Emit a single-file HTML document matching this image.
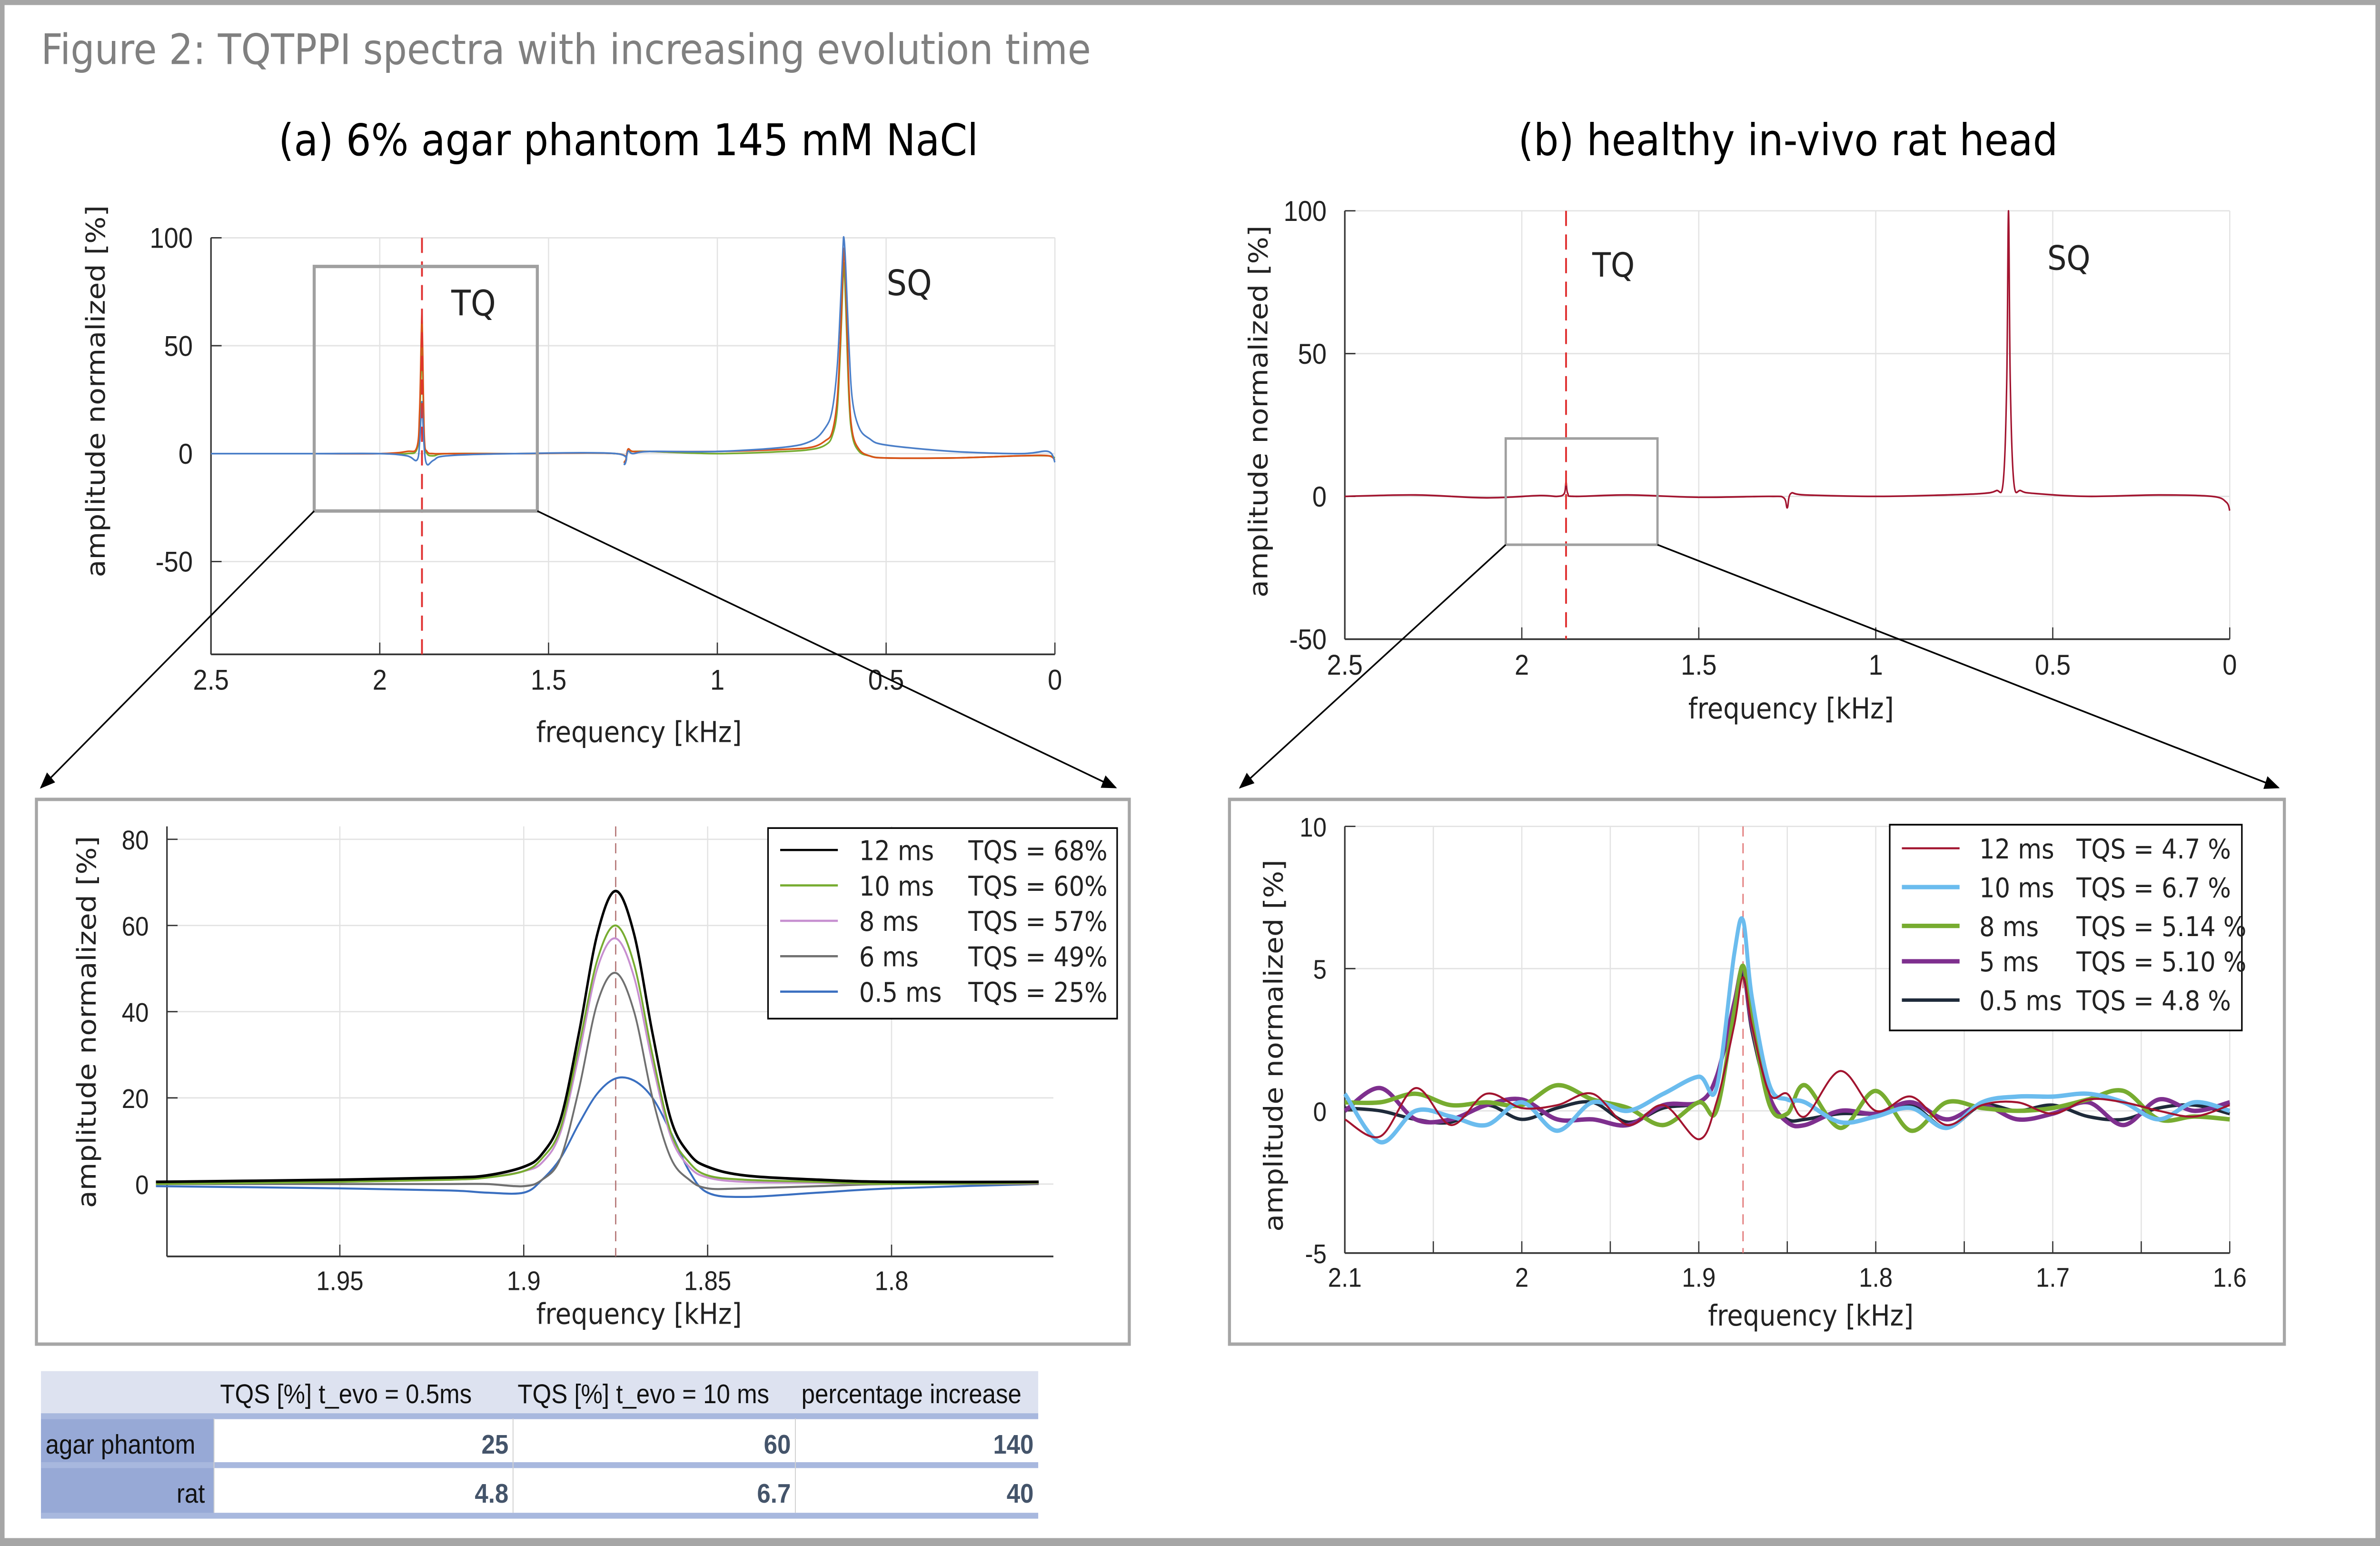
<!DOCTYPE html>
<html><head><meta charset="utf-8">
<style>
html,body{margin:0;padding:0;background:#fff;width:100%;height:100%;overflow:hidden;}
#wrap{position:fixed;left:0;top:0;width:100vw;height:100vh;overflow:hidden;}
svg{display:block;position:absolute;left:0;top:0;width:100%;height:100%;}
text{font-family:"DejaVu Sans","Liberation Sans",sans-serif;}
.n{font-family:"Liberation Sans Narrow","Liberation Sans",sans-serif;}
</style></head><body>
<div id="wrap">
<svg id="fig" viewBox="0 0 1568 916.7" preserveAspectRatio="none" xmlns="http://www.w3.org/2000/svg">
<rect x="0" y="0" width="1568" height="916.7" fill="#a6a6a6"/>
<rect x="3" y="3" width="1562" height="909" fill="#fff"/>
<text x="27" y="38" font-size="25" fill="#808080">Figure 2: TQTPPI spectra with increasing evolution time</text>
<text x="414" y="92" font-size="26" text-anchor="middle">(a) 6% agar phantom 145 mM NaCl</text>
<text x="1178" y="92" font-size="26" text-anchor="middle">(b) healthy in-vivo rat head</text>
<g id="layer"></g>
</svg>
</div>
<script>
// ---------- data ----------
const aTopFreq = [2.5,2.2,2.0,1.92,1.89,1.882,1.877,1.875,1.873,1.868,1.86,1.84,1.8,1.6,1.3,1.275,1.265,1.25,1.2,1.0,0.8,0.72,0.68,0.66,0.645,0.635,0.628,0.625,0.62,0.61,0.6,0.58,0.55,0.5,0.3,0.1,0.02,0.0];
const aTop05  = [0,0,0,-1,-3,5,20,24,18,2,-5,-3,-1,0,0,-5,1,0,1,1,3,6,12,20,40,70,95,100,88,50,25,12,7,4,1,0,1,-4];
const aTop12  = [0,0,0,1,3,20,55,65,50,8,1,0,0,0,0,-4,2,1,1,1,2,3,6,10,25,55,85,95,80,30,10,2,-1,-2,-2,-1,-1,-3];
const aTop6   = [0,0,0,0,2,15,42,49,38,6,0,-1,0,0,0,-4,1,1,1,0,1,2,4,8,20,50,80,88,70,25,8,1,-1,-2,-2,-1,-1,-2];
const aTopColors = ["#4a7ec8","#d95319","#77ac30"];
const bTopFreq = [2.5,2.3,2.1,1.95,1.9,1.88,1.875,1.87,1.85,1.7,1.5,1.3,1.26,1.25,1.24,1.2,1.0,0.8,0.7,0.66,0.64,0.63,0.625,0.62,0.61,0.59,0.55,0.4,0.2,0.05,0.01,0.0];
const bTop12   = [0,0.5,-0.5,0.3,0,1,5,1,0,0.5,-0.3,0,-0.5,-4,1,0.5,0,0.5,1,2,5,40,100,40,5,2,1,0,0.5,0,-2,-5];
const zaFreq = [2.0,1.95,1.92,1.91,1.9,1.895,1.89,1.885,1.88,1.875,1.87,1.865,1.86,1.855,1.85,1.84,1.82,1.8,1.76];
const za12  = [0.5,1,1.5,2,4,7,15,35,58,68,58,35,15,7,4,2,1,0.5,0.5];
const za10  = [0,0.5,1,1.5,3,6,13,32,52,60,51,30,12,5,2,1,0.5,0,0.3];
const za8   = [0,0.5,1,1.5,3,5,12,30,50,57,48,28,11,4,1.5,0.5,0.3,0,0.2];
const za6   = [0,0,0,0,-0.5,1,6,22,42,49,40,20,6,1,-1,-1,-0.5,0,0];
const za05  = [-0.5,-1,-1.5,-2,-2,1,6,14,21,24.5,24,20,12,3,-2,-3,-2,-1,0];
const zaLabels = ["12 ms","10 ms","8 ms","6 ms","0.5 ms"];
const zaTqs = ["TQS = 68%","TQS = 60%","TQS = 57%","TQS = 49%","TQS = 25%"];
const zaColors = ["#000000","#77ac30","#c78fd0","#707070","#3a6fc0"];
const zbFreq = [2.1,2.08,2.06,2.04,2.02,2.0,1.98,1.96,1.94,1.92,1.9,1.89,1.88,1.875,1.87,1.86,1.85,1.84,1.82,1.8,1.78,1.76,1.74,1.72,1.7,1.68,1.66,1.64,1.62,1.6];
const zb12 = [-0.3,-0.9,0.8,-0.5,0.6,0.1,0.2,0.6,-0.5,0.2,-1.0,0.3,3,4.7,3,0.6,0.6,-0.2,1.4,0,0.5,-0.5,0.2,0.3,-0.1,0.4,0.3,0,-0.2,0.2];
const zb10 = [0.6,-1.1,0,-0.2,-0.5,0.3,-0.7,0.3,0,0.6,1.2,0.8,5.5,6.7,4,0.9,0.4,0.3,-0.4,-0.2,0.1,-0.6,0.3,0.5,0.5,0.6,0.3,-0.3,0.3,0];
const zb8  = [0.3,0.3,0.6,0.2,0.3,0.2,0.9,0.4,0.1,-0.5,0.3,0,3.5,5.1,3.2,0.2,-0.1,0.9,-0.6,0.7,-0.7,0.3,0.1,0,0.1,0.4,0.7,-0.3,-0.2,-0.3];
const zb5  = [0,0.8,-0.3,-0.3,0.2,0.4,-0.3,-0.3,-0.5,0.2,0.3,1.2,3.8,5.0,3,0.5,-0.4,-0.5,0,-0.1,0.3,-0.3,0.2,-0.3,-0.1,0.3,-0.5,0.4,0,0.3];
const zb05 = [0.1,0,-0.3,-0.4,0.2,-0.3,0.1,0.3,-0.4,0.1,0.3,1.2,3.5,4.8,2.8,0.4,-0.3,-0.3,-0.1,-0.1,0.2,-0.6,0.2,0,0.2,-0.2,-0.3,0.1,0.2,-0.1];
const zbLabels = ["12 ms","10 ms","8 ms","5 ms","0.5 ms"];
const zbTqs = ["TQS = 4.7 %","TQS = 6.7 %","TQS = 5.14 %","TQS = 5.10 %","TQS = 4.8 %"];
const zbColors = ["#a2142f","#6bbcee","#77ac30","#7e2f8e","#1e2a3a"];
const zbWidths = [1.2,2.6,2.6,2.6,2];
const tabCols = ["TQS [%] t_evo = 0.5ms","TQS [%]  t_evo = 10 ms","percentage increase"];
const tabRows = ["agar phantom","rat"];
const tabVals = [["25","60","140"],["4.8","6.7","40"]];

// ---------- helpers ----------
const NS = "http://www.w3.org/2000/svg";
const layer = document.getElementById("layer");
function el(tag, attrs, parent, txt){
  const e = document.createElementNS(NS, tag);
  for (const k in attrs) e.setAttribute(k, attrs[k]);
  if (txt !== undefined) e.textContent = txt;
  (parent || layer).appendChild(e);
  return e;
}
function mk(c){
  c.sx = f => c.x0 + (f - c.xl) / (c.xr - c.xl) * (c.x1 - c.x0);
  c.sy = v => c.y1 - (v - c.ymin) / (c.ymax - c.ymin) * (c.y1 - c.y0);
  return c;
}
function smooth(pts){
  let d = "M" + pts[0][0].toFixed(2) + "," + pts[0][1].toFixed(2);
  for (let i = 0; i < pts.length - 1; i++){
    const p0 = pts[Math.max(0,i-1)], p1 = pts[i], p2 = pts[i+1], p3 = pts[Math.min(pts.length-1,i+2)];
    const c1x = p1[0] + (p2[0]-p0[0])/6, c1y = p1[1] + (p2[1]-p0[1])/6;
    const c2x = p2[0] - (p3[0]-p1[0])/6, c2y = p2[1] - (p3[1]-p1[1])/6;
    d += "C" + c1x.toFixed(2)+","+c1y.toFixed(2)+" "+c2x.toFixed(2)+","+c2y.toFixed(2)+" "+p2[0].toFixed(2)+","+p2[1].toFixed(2);
  }
  return d;
}
function axes(c, xt, yt, xtl, ytl, fs, prefix){
  const g = el("g", {});
  
  
  xt.forEach((t,i) => {
    const x = c.sx(t);
    const gl = el("line", {x1:x, x2:x, y1:c.y0, y2:c.y1, stroke:"#e3e3e3", "stroke-width":0.8}, g);
    
    
    el("line", {x1:x, x2:x, y1:c.y1, y2:c.y1-7, stroke:"#333", "stroke-width":0.8}, g);
    if (xtl[i] !== "") {
      const tx = el("text", {x:x, y:c.y1+fs+4, "font-size":fs, "text-anchor":"middle", fill:"#222", class:"n"}, g, xtl[i]);
      
      
    }
  });
  yt.forEach((t,i) => {
    const y = c.sy(t);
    const gl = el("line", {x1:c.x0, x2:c.x1, y1:y, y2:y, stroke:"#e3e3e3", "stroke-width":0.8}, g);
    
    
    el("line", {x1:c.x0, x2:c.x0+7, y1:y, y2:y, stroke:"#333", "stroke-width":0.8}, g);
    const ty = el("text", {x:c.x0-12, y:y+6, "font-size":fs, "text-anchor":"end", fill:"#222", class:"n"}, g, ytl[i]);
    
    
  });
  el("line", {x1:c.x0, x2:c.x0, y1:c.y0, y2:c.y1, stroke:"#333", "stroke-width":1}, g);
  el("line", {x1:c.x0, x2:c.x1, y1:c.y1, y2:c.y1, stroke:"#333", "stroke-width":1}, g);
}
function series(c, fr, vals, color, w, name){
  const pts = fr.map((f,i) => [c.sx(f), c.sy(vals[i])]);
  const p = el("path", {d:smooth(pts), fill:"none", stroke:color, "stroke-width":w, "stroke-linejoin":"round"});
  
  
}
function label(x, y, fs, txt, name, rot, anchor){
  const a = {x:x, y:y, "font-size":fs, "text-anchor":anchor||"middle", fill:"#222"};
  if (rot) a.transform = "rotate(-90 " + x + " " + y + ")";
  const t = el("text", a, layer, txt);
  
  
  return t;
}

// ---------- (a) overview ----------
const A = mk({x0:139, x1:695, y0:141, y1:388, xl:2.5, xr:0, ymin:-93, ymax:100});
axes(A, [2.5,2,1.5,1,0.5,0], [100,50,0,-50], ["2.5","2","1.5","1","0.5","0"], ["100","50","0","-50"], 17, "a-top");
[aTop6, aTop12, aTop05].forEach((s,i) => series(A, aTopFreq, s, [aTopColors[2],aTopColors[1],aTopColors[0]][i], 1, "a-top-series"));
let r = el("line", {x1:A.sx(1.875), x2:A.sx(1.875), y1:A.y0, y2:A.y1, stroke:"#e03030", "stroke-width":1.2, "stroke-dasharray":"9,5"});
 
r = el("rect", {x:207, y:158, width:147, height:145, fill:"none", stroke:"#a0a0a0", "stroke-width":2});
 
label(312, 187, 21, "TQ", "a-tq-label");
label(599, 175, 21, "SQ", "a-sq-label");
label(421, 440, 17, "frequency [kHz]", "a-top-x-title");
label(69, 232, 17, "amplitude normalized [%]", "a-top-y-title", true);

// ---------- (b) overview ----------
const B = mk({x0:886, x1:1469, y0:125, y1:379, xl:2.5, xr:0, ymin:-50, ymax:100});
axes(B, [2.5,2,1.5,1,0.5,0], [100,50,0,-50], ["2.5","2","1.5","1","0.5","0"], ["100","50","0","-50"], 17, "b-top");
series(B, bTopFreq, bTop12, "#a2142f", 1, "b-top-series");
r = el("line", {x1:B.sx(1.875), x2:B.sx(1.875), y1:B.y0, y2:B.y1, stroke:"#e03030", "stroke-width":1.2, "stroke-dasharray":"9,5"});
 
r = el("rect", {x:992, y:260, width:100, height:63, fill:"none", stroke:"#a0a0a0", "stroke-width":1.5});
 
label(1063, 164, 20, "TQ", "b-tq-label");
label(1363, 160, 20, "SQ", "b-sq-label");
label(1180, 426, 17, "frequency [kHz]", "b-top-x-title");
label(835, 244, 17, "amplitude normalized [%]", "b-top-y-title", true);

// ---------- arrows ----------
const defs = el("defs", {});
const mrk = el("marker", {id:"ah", markerWidth:10, markerHeight:8, refX:9, refY:4, orient:"auto", markerUnits:"userSpaceOnUse"}, defs);
el("path", {d:"M0,0 L10,4 L0,8 z", fill:"#000"}, mrk);
[[207,303,27,467],[354,303,735,467],[992,323,817,467],[1092,323,1501,467]].forEach(a => {
  const l = el("line", {x1:a[0], y1:a[1], x2:a[2], y2:a[3], stroke:"#000", "stroke-width":1, "marker-end":"url(#ah)"});
  
  
});

// ---------- (a) zoom panel ----------
r = el("rect", {x:24, y:474, width:720, height:323, fill:"#fff", stroke:"#a6a6a6", "stroke-width":2});
 
const ZA = mk({x0:110, x1:694, y0:490, y1:745, xl:1.997, xr:1.756, ymin:-16.8, ymax:83});
axes(ZA, [1.95,1.9,1.85,1.8], [80,60,40,20,0], ["1.95","1.9","1.85","1.8"], ["80","60","40","20","0"], 16, "a-zoom");
r = el("line", {x1:ZA.sx(1.875), x2:ZA.sx(1.875), y1:ZA.y0, y2:ZA.y1, stroke:"#b07070", "stroke-width":0.8, "stroke-dasharray":"6,4"});
 
[za05, za6, za8, za10, za12].forEach((s,i) => series(ZA, zaFreq, s, zaColors[4-i], i===4?1.6:1.2, "a-zoom-series-" + zaLabels[4-i].replace(/ /g,'')));
label(421, 785, 17, "frequency [kHz]", "a-zoom-x-title");
label(63, 606, 17, "amplitude normalized [%]", "a-zoom-y-title", true);
r = el("rect", {x:506, y:491, width:230, height:113, fill:"#fff", stroke:"#000", "stroke-width":1});
 
zaLabels.forEach((lb,i) => {
  const y = 504 + i*21;
  const l = el("line", {x1:514, x2:552, y1:y, y2:y, stroke:zaColors[i], "stroke-width":1.3});
   
  label(566, y+6, 16, lb, "a-legend-label", false, "start");
  label(638, y+6, 16, zaTqs[i], "a-legend-tqs", false, "start");
});

// ---------- (b) zoom panel ----------
r = el("rect", {x:810, y:474, width:695, height:323, fill:"#fff", stroke:"#a6a6a6", "stroke-width":2});
 
const ZB = mk({x0:886, x1:1469, y0:490, y1:743, xl:2.1, xr:1.6, ymin:-5, ymax:10});
axes(ZB, [2.1,2.05,2,1.95,1.9,1.85,1.8,1.75,1.7,1.65,1.6], [10,5,0,-5], ["2.1","","2","","1.9","","1.8","","1.7","","1.6"], ["10","5","0","-5"], 16, "b-zoom");
r = el("line", {x1:ZB.sx(1.875), x2:ZB.sx(1.875), y1:ZB.y0, y2:ZB.y1, stroke:"#e07070", "stroke-width":0.8, "stroke-dasharray":"6,4"});
 
[zb05, zb5, zb8, zb10, zb12].forEach((s,i) => series(ZB, zbFreq, s, zbColors[4-i], zbWidths[4-i], "b-zoom-series-" + zbLabels[4-i].replace(/ /g,'')));
label(1193, 786, 17, "frequency [kHz]", "b-zoom-x-title");
label(845, 620, 17, "amplitude normalized [%]", "b-zoom-y-title", true);
r = el("rect", {x:1245, y:489, width:232, height:122, fill:"#fff", stroke:"#000", "stroke-width":1});
 
zbLabels.forEach((lb,i) => {
  const y = 503 + i*23 - (i>=3?2:0);
  const l = el("line", {x1:1253, x2:1291, y1:y, y2:y, stroke:zbColors[i], "stroke-width":zbWidths[i]});
   
  label(1304, y+6, 16, lb, "b-legend-label", false, "start");
  label(1368, y+6, 16, zbTqs[i], "b-legend-tqs", false, "start");
});

// ---------- table ----------
const tg = el("g", {});
 
el("rect", {x:27, y:813, width:657, height:28, fill:"#dde2f0"}, tg);
el("rect", {x:27, y:841, width:657, height:59, fill:"#fff"}, tg);
el("rect", {x:27, y:841, width:114, height:59, fill:"#97a9d6"}, tg);
[838,867,897].forEach(y => el("rect", {x:27, y:y, width:657, height:3.5, fill:"#a8b8de"}, tg));
[141,338,524].forEach(x => el("line", {x1:x, x2:x, y1:841, y2:897, stroke:"#d0d0d0", "stroke-width":0.6}, tg));
const colX = [338,524,684];
tabCols.forEach((c,i) => {
  const t = el("text", {x:[145,341,528][i], y:832, "font-size":16, fill:"#111", class:"n"}, tg, c);
   
});
tabRows.forEach((rw,j) => {
  const y = 862 + j*29;
  const t = el("text", {x:j===0?30:135, y:y, "font-size":16, fill:"#111", "text-anchor":j===0?"start":"end", class:"n"}, tg, rw);
   
  tabVals[j].forEach((v,i) => {
    const tv = el("text", {x:colX[i]-3, y:y, "font-size":16, "font-weight":"bold", fill:"#44546a", "text-anchor":"end", class:"n"}, tg, v);
     
  });
});
</script>
</body></html>
